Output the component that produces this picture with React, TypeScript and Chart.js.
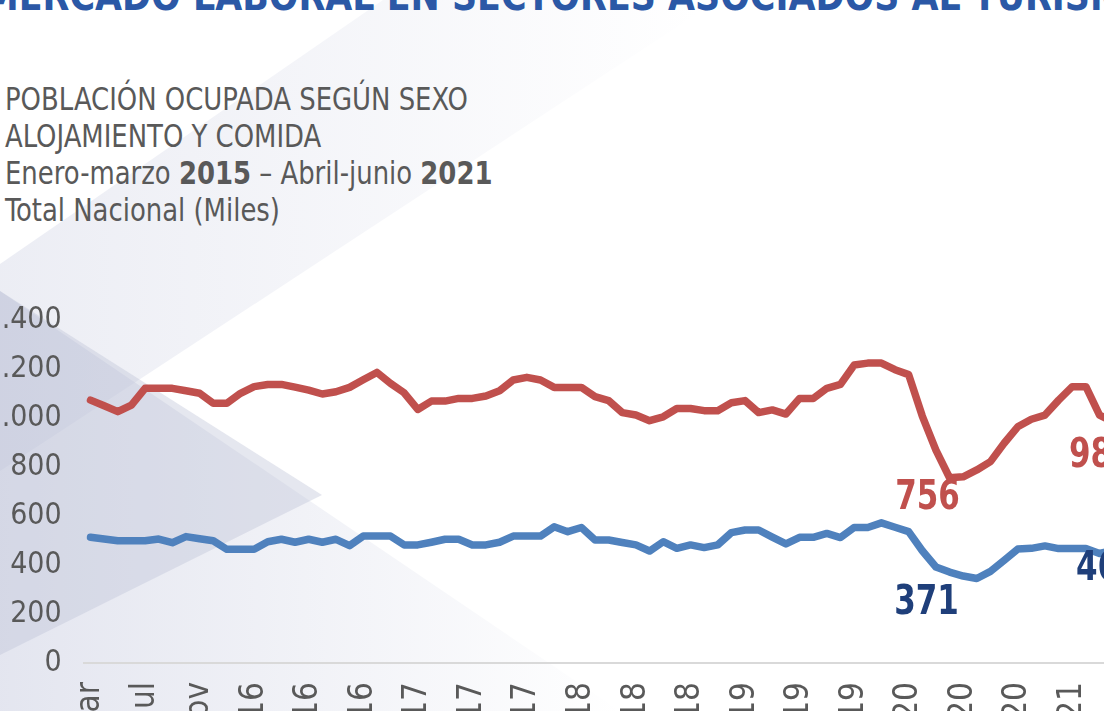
import React, { useEffect, useRef } from 'react';
import { Chart, registerables } from 'chart.js';

Chart.register(...registerables);

const FONT = '"Liberation Sans Narrow", "DejaVu Sans Condensed", "Arial Narrow", sans-serif';

const MONTHS = ['Ene', 'Feb', 'Mar', 'Abr', 'May', 'Jun', 'Jul', 'Ago', 'Sep', 'Oct', 'Nov', 'Dic'];
const FIRST_YEAR = 2015;

// Trimestres móviles: Ene-Mar 2015 ... Abr-Jun 2021 (76 periodos)
const periods: string[] = [];
for (let i = 0; i < 76; i++) {
  const m = i % 12;
  const y = FIRST_YEAR + Math.floor(i / 12);
  const name = `${MONTHS[m]}-${MONTHS[(m + 2) % 12]}`;
  periods.push(y === FIRST_YEAR ? name : `${name} ${y}`);
}
const TICK_EVERY = 4;

// Mujeres (rojo)
const mujeres = [
  1073, 1050, 1026, 1053, 1121, 1121, 1121, 1111, 1101, 1060, 1060, 1101,
  1128, 1137, 1137, 1126, 1114, 1098, 1107, 1125, 1156, 1186, 1141, 1103,
  1035, 1069, 1069, 1080, 1080, 1090, 1111, 1155, 1166, 1155, 1125, 1125,
  1125, 1087, 1071, 1022, 1012, 989, 1005, 1039, 1039, 1030, 1030, 1062,
  1071, 1022, 1033, 1016, 1080, 1080, 1121, 1137, 1216, 1224, 1224, 1197,
  1177, 1008, 869, 756, 760, 788, 822, 897, 964, 995, 1012, 1073,
  1128, 1128, 1012, 984,
];

// Hombres (azul)
const hombres = [
  513, 506, 499, 499, 499, 506, 491, 516, 507, 499, 464, 464,
  464, 495, 505, 493, 505, 493, 505, 479, 518, 518, 518, 482,
  482, 493, 505, 505, 482, 482, 493, 518, 518, 518, 556, 536,
  553, 502, 502, 492, 482, 457, 495, 468, 482, 471, 482, 532,
  543, 543, 514, 486, 513, 513, 529, 512, 553, 553, 572, 554,
  536, 458, 392, 371, 355, 345, 374, 419, 465, 468, 478, 467,
  467, 467, 447, 460,
];

const Y_MAX = 1400;
const Y_STEP = 200;

const RED = '#c0504d';
const BLUE = '#4f81bd';
const DARK_BLUE = '#1f3f7a';

// Etiquetas de datos: serie, índice, desplazamiento y color
const dataLabels = [
  { ds: 0, index: 63, dx: -22, dy: 21, color: RED },
  { ds: 1, index: 63, dx: -23, dy: 32, color: DARK_BLUE },
  { ds: 0, index: 75, dx: -12, dy: 35, color: RED },
  { ds: 1, index: 75, dx: -5, dy: 19, color: DARK_BLUE },
];

const fmt = (v: number) => {
  const s = Math.round(v).toString();
  return s.replace(/\B(?=(\d{3})+(?!\d))/g, '.');
};

const labelPlugin = {
  id: 'pointLabels',
  afterDatasetsDraw(chart: any) {
    const ctx = chart.ctx;
    for (const l of dataLabels) {
      const meta = chart.getDatasetMeta(l.ds);
      const el = meta.data[l.index];
      const v = chart.data.datasets[l.ds].data[l.index];
      ctx.save();
      ctx.translate(el.x + l.dx, el.y + l.dy);
      ctx.scale(0.86, 1);
      ctx.font = `bold 40px ${FONT}`;
      ctx.textAlign = 'center';
      ctx.textBaseline = 'middle';
      ctx.fillStyle = l.color;
      ctx.fillText(fmt(v), 0, 0);
      ctx.restore();
    }
  },
};

function LineChart() {
  const ref = useRef<HTMLCanvasElement>(null);
  useEffect(() => {
    if (!ref.current) return;
    const chart = new Chart(ref.current, {
      type: 'line',
      data: {
        labels: periods,
        datasets: [
          {
            label: 'Mujeres',
            data: mujeres,
            borderColor: RED,
            backgroundColor: RED,
            borderWidth: 7.5,
            pointRadius: 0,
            tension: 0,
            borderJoinStyle: 'round',
            borderCapStyle: 'round',
          },
          {
            label: 'Hombres',
            data: hombres,
            borderColor: BLUE,
            backgroundColor: BLUE,
            borderWidth: 7.5,
            pointRadius: 0,
            tension: 0,
            borderJoinStyle: 'round',
            borderCapStyle: 'round',
          },
        ],
      },
      options: {
        animation: false,
        responsive: false,
        maintainAspectRatio: false,
        layout: { padding: { top: 40, left: 0, right: 20, bottom: 0 } },
        plugins: { legend: { display: false }, tooltip: { enabled: false } },
        scales: {
          x: {
            type: 'category',
            offset: true,
            grid: { display: false, drawTicks: false },
            border: { display: true, color: '#d9d9d9', width: 2 },
            afterFit: (s: any) => {
              s.height = 57;
              s.paddingLeft = 0;
              s.paddingRight = 0;
            },
            ticks: {
              autoSkip: false,
              maxRotation: 90,
              minRotation: 90,
              padding: 19,
              color: '#595959',
              font: { family: FONT, size: 33 },
              callback: (_v: any, i: number) => (i % TICK_EVERY === 0 ? periods[i] : ''),
            },
          },
          y: {
            min: 0,
            max: Y_MAX,
            grid: { display: false, drawTicks: false },
            border: { display: false },
            afterFit: (s: any) => {
              s.width = 83.7;
            },
            ticks: {
              stepSize: Y_STEP,
              padding: 22,
              color: '#595959',
              font: { family: FONT, size: 30 },
              callback: (v: any) => fmt(Number(v)),
            },
          },
        },
      },
      plugins: [labelPlugin],
    });
    return () => chart.destroy();
  }, []);
  return (
    <canvas
      ref={ref}
      width={1140}
      height={440}
      style={{ position: 'absolute', left: 0, top: 280, width: 1140, height: 440 }}
    />
  );
}

function Background() {
  return (
    <svg width={1104} height={711} style={{ position: 'absolute', left: 0, top: 0 }}>
      <defs>
        <linearGradient id="gA" x1="0" y1="0" x2="700" y2="0" gradientUnits="userSpaceOnUse">
          <stop offset="0" stopColor="rgb(200,204,224)" stopOpacity="0.35" />
          <stop offset="1" stopColor="rgb(200,204,224)" stopOpacity="0" />
        </linearGradient>
        <linearGradient id="gD" x1="0" y1="0" x2="620" y2="0" gradientUnits="userSpaceOnUse">
          <stop offset="0" stopColor="rgb(200,204,224)" stopOpacity="0.5" />
          <stop offset="1" stopColor="rgb(200,204,224)" stopOpacity="0" />
        </linearGradient>
      </defs>
      <polygon points="383,0 718,0 0,471 0,264" fill="url(#gA)" />
      <polygon points="0,291 620,711 0,711" fill="url(#gD)" />
      <polygon points="0,291 322,495 0,655" fill="rgb(190,194,214)" fillOpacity="0.4" />
    </svg>
  );
}

export default function App() {
  return (
    <div
      style={{
        position: 'fixed',
        left: 0,
        top: 0,
        width: 1104,
        height: 711,
        overflow: 'hidden',
        background: '#ffffff',
        fontFamily: FONT,
      }}
    >
      <Background />
      <div
        style={{
          position: 'absolute',
          left: -16,
          top: -24,
          whiteSpace: 'nowrap',
          fontSize: 40,
          lineHeight: '40px',
          fontWeight: 'bold',
          color: '#2b58a6',
          transform: 'scaleX(0.97)',
          transformOrigin: 'left top',
        }}
      >
        MERCADO LABORAL EN SECTORES ASOCIADOS AL TURISMO
      </div>
      <div
        style={{
          position: 'absolute',
          left: 5,
          top: 81,
          fontSize: 32,
          lineHeight: '37px',
          color: '#595959',
          whiteSpace: 'nowrap',
          transform: 'scaleX(0.9)',
          transformOrigin: 'left top',
        }}
      >
        <div>POBLACIÓN OCUPADA SEGÚN SEXO</div>
        <div>ALOJAMIENTO Y COMIDA</div>
        <div>
          Enero-marzo <b>2015</b> – Abril-junio <b>2021</b>
        </div>
        <div>Total Nacional (Miles)</div>
      </div>
      <LineChart />
    </div>
  );
}
